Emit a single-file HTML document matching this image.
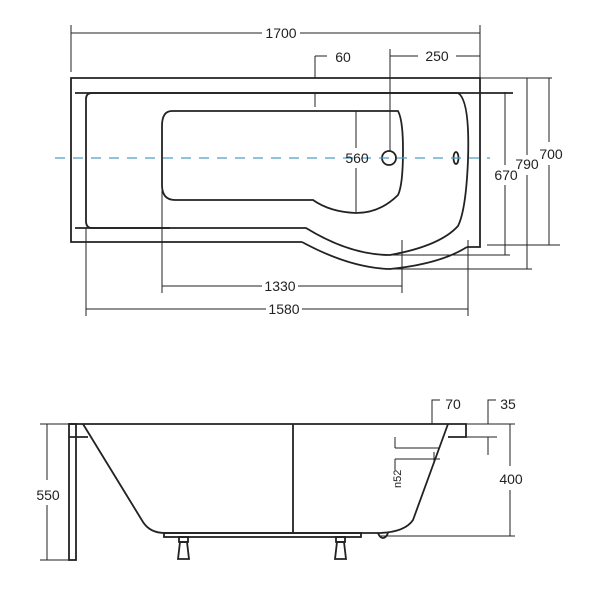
<!DOCTYPE html><html><head><style>body{margin:0;background:#fff}svg{display:block}text{font-family:"Liberation Sans",sans-serif;font-size:14px;fill:#222}</style></head><body>
<svg width="600" height="600" viewBox="0 0 600 600" fill="none" stroke="#222" stroke-width="1">
<g stroke-width="1.8">
<path d="M302 242H71V78H480V247H467"/>
<path d="M75 93H513"/>
<path d="M75 228H170"/>
<path d="M92 93H458Q470 100 468 160Q466 210 458 226Q440 246 390 255Q350 255 306 228H92Q86 228 86 221V99Q86 93 92 93Z"/>
<path d="M302 242Q350 268 390 269Q440 264 467 247"/>
<path d="M172 111H398Q403 120 403 150Q403 185 398 195Q380 213 356 213Q330 212 313 200H175Q162 200 162 185V126Q162 111 172 111Z"/>
<circle cx="389" cy="158" r="7"/>
<ellipse cx="456" cy="158" rx="2.5" ry="6"/>
</g>
<path d="M55 158H490" stroke="#4a9fc8" stroke-width="1.2" stroke-dasharray="10 8"/>
<path d="M71 25V72M480 25V78M71 33H262M300 33H480"/>
<path d="M315 56V78M315 92V107M315 56H327"/>
<path d="M390 49V151M390 56H418M456 56H480"/>
<path d="M356 111V148M356 168V212"/>
<path d="M480 78H552M487 245H560M549 78V142M549 165V245"/>
<path d="M527 78V155M527 175V269M390 269H532"/>
<path d="M505 92V165M505 185V255M390 255H510M496 93H513"/>
<path d="M162 158V293M402 240V293M162 286H262M298 286H402"/>
<path d="M86 228V316M468 240V316M86 309H266M302 309H468"/>
<g stroke="none">
<text x="281" y="38" text-anchor="middle">1700</text>
<text x="343" y="62" text-anchor="middle">60</text>
<text x="437" y="61" text-anchor="middle">250</text>
<text x="357" y="163" text-anchor="middle">560</text>
<text x="551" y="159" text-anchor="middle">700</text>
<text x="527" y="169" text-anchor="middle">790</text>
<text x="506" y="180" text-anchor="middle">670</text>
<text x="280" y="291" text-anchor="middle">1330</text>
<text x="284" y="314" text-anchor="middle">1580</text>
</g>
<g stroke-width="1.8">
<path d="M69 424H466V437H448"/>
<rect x="69" y="424" width="7" height="136"/>
<path d="M69 437H88"/>
<path d="M83 424L143 522Q150 533 165 533H380Q405 532 413 520L448 424"/>
<path d="M293 424V533"/>
<rect x="164" y="533" width="197" height="4"/>
<path d="M378 533Q380 538 383 538Q386 538 388 533"/>
<rect x="179" y="537" width="9" height="5"/><path d="M180 542L178 559H189L187 542Z"/>
<rect x="336" y="537" width="9" height="5"/><path d="M337 542L335 559H346L344 542Z"/>
</g>
<path d="M47 424V480M47 505V560M40 424H69M40 560H69"/>
<path d="M510 424V466M510 490V536M466 424H515M380 536H515"/>
<path d="M432 424V400H440"/>
<path d="M488 424V400H496M488 437V455M466 437H497"/>
<path d="M395 448H440M395 459H440M395 437V448M395 459V470M434 452V464"/>
<g stroke="none">
<text x="48" y="500" text-anchor="middle">550</text>
<text x="511" y="484" text-anchor="middle">400</text>
<text x="453" y="409" text-anchor="middle">70</text>
<text x="508" y="409" text-anchor="middle">35</text>
<text transform="translate(401 488) rotate(-90)" style="font-size:11px">n52</text>
</g>
</svg>
</body></html>
